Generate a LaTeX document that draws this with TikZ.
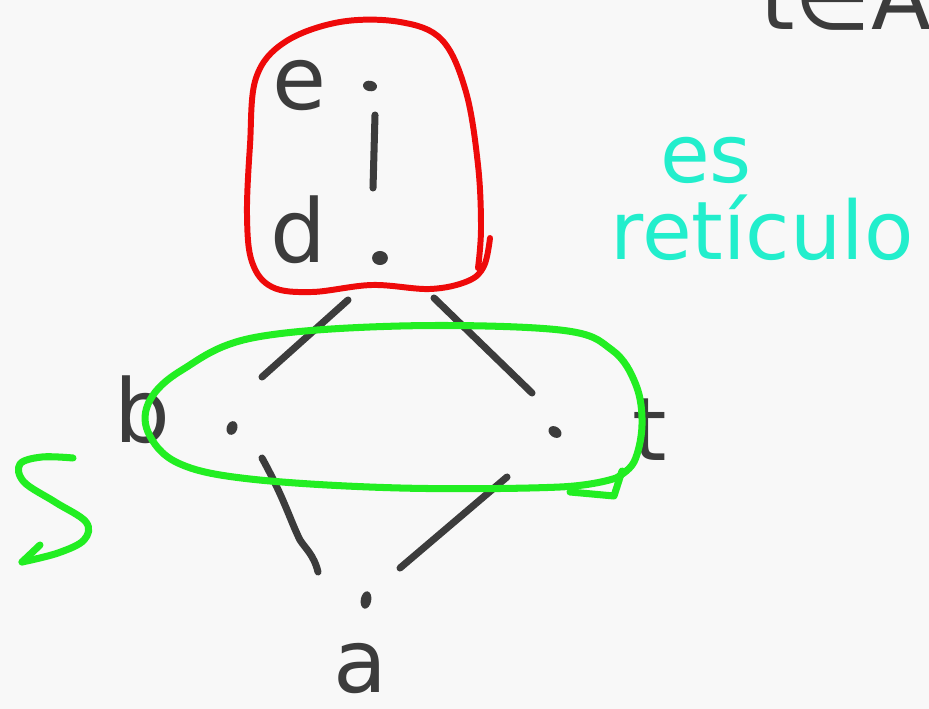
\documentclass[tikz,border=0pt]{standalone}
\usepackage{fontspec}
\setmainfont{DejaVu Sans}
\usetikzlibrary{shapes.geometric}
\definecolor{paper}{HTML}{F8F8F8}
\definecolor{ink}{HTML}{3C3C3C}
\definecolor{penred}{HTML}{EE0A0A}
\definecolor{pengreen}{HTML}{22EE22}
\definecolor{penteal}{HTML}{22EECC}
\tikzset{
  edge/.style={ink, line width=4pt, line cap=round},
  vdot/.style={ink, fill=ink, ellipse, draw=none, inner sep=0pt, minimum width=8pt, minimum height=6pt},
  letter/.style={ink, font=\fontsize{50}{58}\selectfont, inner sep=0pt},
  note/.style={penteal, font=\fontsize{46}{52}\selectfont, inner sep=0pt},
  redpen/.style={penred, line width=3.4pt, line cap=round, line join=round},
  greenpen/.style={pengreen, line width=4pt, line cap=round, line join=round},
}
\begin{document}
\begin{tikzpicture}[x=0.02cm, y=-0.02cm]
  \path[use as bounding box] (0,0) rectangle (929,709);
  \fill[paper] (0,0) rectangle (929,709);
  \clip (0,0) rectangle (929,709);

  % lattice points
  \node[vdot, rotate=-10] (e) at (370,86) {};
  \node[vdot, minimum width=9pt, minimum height=8pt] (d) at (380,258) {};
  \node[vdot, rotate=70] (b) at (232,428) {};
  \node[vdot, rotate=-35] (c) at (555,432) {};
  \node[vdot, rotate=80, minimum width=10pt] (a) at (366,600) {};

  % ends of the edge strokes
  \coordinate (ed1) at (375,115);  \coordinate (ed2) at (373,188);
  \coordinate (db1) at (348,300);  \coordinate (db2) at (262,377);
  \coordinate (dc1) at (434,298);  \coordinate (dc2) at (532,393);
  \coordinate (ba1) at (262,458);  \coordinate (ba2) at (300,540);
  \coordinate (ba3) at (318,572);
  \coordinate (ca1) at (507,477);  \coordinate (ca2) at (400,568);

  % edges of the Hasse diagram
  \draw[edge] (ed1) -- (ed2);
  \draw[edge] (db1) -- (db2);
  \draw[edge] (dc1) -- (dc2);
  \draw[edge] (ba1) .. controls (285,500) and (290,520) .. (ba2) .. controls (305,548) and (314,555) .. (ba3);
  \draw[edge] (ca1) -- (ca2);

  % labels
  \node[letter] (le) at (300,86) {e};
  \node[letter] (ld) at (298,230) {d};
  \node[letter] (lb) at (142,410) {b};
  \node[letter] (lt) at (650,430) {t};
  \node[letter, text depth=0pt, anchor=base] (la) at (360,692) {a};
  \node[letter, anchor=base west] (top) at (760,30) {t∈A};

  % filter {d,e}
  \draw[redpen] plot[smooth, tension=0.6] coordinates {
    (490,238) (484,266) (468,281) (430,289) (372,285) (312,292) (272,287)
    (252,262) (247,215) (250,145) (256,78) (285,42) (340,22) (400,22)
    (442,40) (466,92) (478,165) (481,228) (478,268)};

  % set {b,t}
  \draw[greenpen] plot[smooth, tension=0.6] coordinates {
    (616,478) (560,487) (400,488) (250,479) (178,463) (148,432) (150,400)
    (182,370) (252,338) (400,326) (560,330) (612,350) (636,385) (642,425)
    (634,462) (616,478)};
  \draw[greenpen] (622,471) -- (614,496) -- (570,492);
  \draw[greenpen] plot[smooth, tension=0.6] coordinates {
    (73,458) (42,457) (20,464) (24,482) (55,502) (86,522) (84,540) (58,553) (22,562)};
  \draw[greenpen] (40,545) -- (22,562);

  % note
  \node[note] (n1) at (706,160) {es};
  \node[note] (n2) at (762,228) {retículo};
\end{tikzpicture}
\end{document}
